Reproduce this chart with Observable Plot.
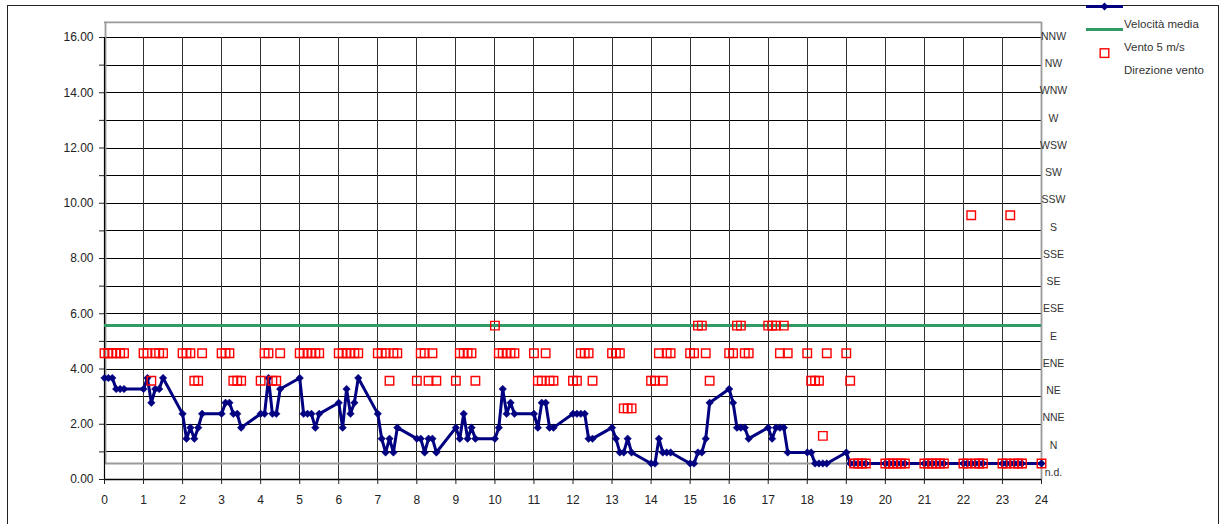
<!DOCTYPE html>
<html>
<head>
<meta charset="utf-8">
<script src="https://cdn.jsdelivr.net/npm/d3@7"></script>
<script src="https://cdn.jsdelivr.net/npm/@observablehq/plot@0.6"></script>
<style>
  html, body { margin: 0; padding: 0; background: #fff; }
  #wrap { position: relative; width: 1221px; height: 524px; overflow: hidden; font-family: "Liberation Sans", Arial, sans-serif; }
  #chart { position: absolute; left: 0; top: 0; }
  #border { position: absolute; left: 7px; top: 5px; width: 1212px; height: 560px; box-sizing: border-box; border: 1px solid #222; pointer-events: none; }
  #legend { position: absolute; left: 0; top: 0; }
</style>
</head>
<body>
<div id="wrap">
  <div id="chart"></div>
  <div id="border"></div>
  <svg id="legend" width="1221" height="90"></svg>
</div>
<script>
// ---- data (time as hour.minutes, speed in m/s on secondary axis, wind direction) ----
const times = [
  0.0,0.1,0.2,0.3,0.4,0.5, 1.0,1.1,1.2,1.3,1.4,1.5, 2.0,2.1,2.2,2.3,2.4,2.5,
  3.0,3.1,3.2,3.3,3.4,3.5, 4.0,4.1,4.2,4.3,4.4,4.5, 5.0,5.1,5.2,5.3,5.4,5.5,
  6.0,6.1,6.2,6.3,6.4,6.5, 7.0,7.1,7.2,7.3,7.4,7.5, 8.0,8.1,8.2,8.3,8.4,8.5,
  9.0,9.1,9.2,9.3,9.4,9.5, 10.0,10.1,10.2,10.3,10.4,10.5, 11.0,11.1,11.2,11.3,11.4,11.5,
  12.0,12.1,12.2,12.3,12.4,12.5, 13.0,13.1,13.2,13.3,13.4,13.5, 14.0,14.1,14.2,14.3,14.4,14.5,
  15.0,15.1,15.2,15.3,15.4,15.5, 16.0,16.1,16.2,16.3,16.4,16.5, 17.0,17.1,17.2,17.3,17.4,17.5,
  18.0,18.1,18.2,18.3,18.4,18.5, 19.0,19.1,19.2,19.3,19.4,19.5, 20.0,20.1,20.2,20.3,20.4,20.5,
  21.0,21.1,21.2,21.3,21.4,21.5, 22.0,22.1,22.2,22.3,22.4,22.5, 23.0,23.1,23.2,23.3,23.4,23.5,
  24.0
];
const speed = [
  3.1,3.1,3.1,2.7,2.7,2.7, 2.7,3.1,2.2,2.7,2.7,3.1, 1.8,0.9,1.3,0.9,1.3,1.8,
  1.8,2.2,2.2,1.8,1.8,1.3, 1.8,1.8,3.1,1.8,1.8,2.7, 3.1,1.8,1.8,1.8,1.3,1.8,
  2.2,1.3,2.7,1.8,2.2,3.1, 1.8,0.9,0.4,0.9,0.4,1.3, 0.9,0.9,0.4,0.9,0.9,0.4,
  1.3,0.9,1.8,0.9,1.3,0.9, 0.9,1.3,2.7,1.8,2.2,1.8, 1.8,1.3,2.2,2.2,1.3,1.3,
  1.8,1.8,1.8,1.8,0.9,0.9, 1.3,0.9,0.4,0.4,0.9,0.4, 0,0,0.9,0.4,0.4,0.4,
  0,0,0.4,0.4,0.9,2.2, 2.7,2.2,1.3,1.3,1.3,0.9, 1.3,0.9,1.3,1.3,1.3,0.4,
  0.4,0.4,0,0,0,0, 0.4,0,0,0,0,0, 0,0,0,0,0,0,
  0,0,0,0,0,0, 0,0,0,0,0,0, 0,0,0,0,0,0,
  0
];
const direction = [
  "ENE","ENE","ENE","ENE","ENE","ENE", "ENE","ENE","NE","ENE","ENE","ENE", "ENE","ENE","ENE","NE","NE","ENE",
  "ENE","ENE","ENE","NE","NE","NE", "NE","ENE","ENE","NE","NE","ENE", "ENE","ENE","ENE","ENE","ENE","ENE",
  "ENE","ENE","ENE","ENE","ENE","ENE", "ENE","ENE","ENE","NE","ENE","ENE", "NE","ENE","ENE","NE","ENE","NE",
  "NE","ENE","ENE","ENE","ENE","NE", "E","ENE","ENE","ENE","ENE","ENE", "ENE","NE","NE","ENE","NE","NE",
  "NE","NE","ENE","ENE","ENE","NE", "ENE","ENE","ENE","NNE","NNE","NNE", "NE","NE","ENE","NE","ENE","ENE",
  "ENE","ENE","E","E","ENE","NE", "ENE","ENE","E","E","ENE","ENE", "E","E","E","ENE","E","ENE",
  "ENE","NE","NE","NE","N","ENE", "ENE","NE","n.d.","n.d.","n.d.","n.d.", "n.d.","n.d.","n.d.","n.d.","n.d.","n.d.",
  "n.d.","n.d.","n.d.","n.d.","n.d.","n.d.", "n.d.","n.d.","S","n.d.","n.d.","n.d.", "n.d.","n.d.","S","n.d.","n.d.","n.d.",
  "n.d."
];
const dirLabels = ["n.d.","N","NNE","NE","ENE","E","ESE","SE","SSE","S","SSW","SW","WSW","W","WNW","NW","NNW"];
const threshold = [5];           // Vento 5 m/s
const xTicks = [0,1,2,3,4,5,6,7,8,9,10,11,12,13,14,15,16,17,18,19,20,21,22,23,24];
const yTicks = [0,1,2,3,4,5,6,7,8,9,10,11,12,13,14,15,16];
const legendItems = ["Velocità media", "Vento 5 m/s", "Direzione vento"];

// ---- secondary axis (0..16) expressed in primary units ----
const secMin = 0.58, secMax = 16.55;
const sec = v => secMin + v * (secMax - secMin) / 16;
const labelY = i => 0.25 + i * (16.04 - 0.25) / 16;

const rows = times.map((t, i) => ({t, s: speed[i], d: direction[i], di: dirLabels.indexOf(direction[i])}));

const navy = "#000080", green = "#339966", red = "#ff0000";

const chart = Plot.plot({
  width: 1221, height: 524,
  marginLeft: 104, marginRight: 180, marginTop: 37, marginBottom: 45,
  x: {domain: [0, 24]},
  y: {domain: [0, 16]},
  style: {fontFamily: "'Liberation Sans', Arial, sans-serif", fontSize: "12px", color: "#222", background: "transparent", overflow: "visible"},
  marks: [
    // grid
    Plot.ruleY(yTicks, {stroke: "#000", strokeWidth: 1, shapeRendering: "crispEdges"}),
    Plot.ruleX(xTicks.slice(1, -1), {y1: 0, y2: 16, stroke: "#333", strokeWidth: 1, shapeRendering: "crispEdges"}),
    // secondary plot-area frame
    Plot.ruleY([secMin, secMax], {x1: 0, x2: 24, stroke: "#9a9a9a", strokeWidth: 1.8}),
    Plot.ruleX([0], {y1: secMin, y2: secMax, dx: 1, stroke: "#9a9a9a", strokeWidth: 1.8}),
    Plot.ruleX([24], {y1: 0, y2: secMax, stroke: "#9a9a9a", strokeWidth: 1.8}),
    // axes lines
    Plot.ruleX([0], {y1: 0, y2: 16, stroke: "#000", strokeWidth: 1.2}),
    Plot.ruleY([0], {stroke: "#000", strokeWidth: 1.5}),
    Plot.axisY({ticks: yTicks, tickSize: 5, tickPadding: 6, fontSize: 12, label: null,
                tickFormat: d => d % 2 === 0 ? d.toFixed(2) : ""}),
    Plot.axisX({ticks: xTicks, tickSize: 5, tickPadding: 11, fontSize: 12, label: null, tickFormat: d => String(d)}),
    // threshold line
    Plot.ruleY(threshold, {y: d => sec(d), x1: 0, x2: 24, stroke: green, strokeWidth: 3}),
    // speed line
    Plot.line(rows, {x: "t", y: d => sec(d.s), stroke: navy, strokeWidth: 3}),
    Plot.dot(rows, {x: "t", y: d => sec(d.s), symbol: "diamond2", r: 3.4, fill: navy, stroke: navy, strokeWidth: 0.5}),
    // wind direction
    Plot.dot(rows, {x: "t", y: d => sec(d.di), symbol: "square", r: 4.8, fill: "none", stroke: red, strokeWidth: 1.4}),
    // right axis labels
    Plot.text(dirLabels, {x: () => 24, y: (d, i) => labelY(i), text: d => d, dx: 12, textAnchor: "middle", fontSize: 10.5, fill: "#333"})
  ]
});
document.getElementById("chart").appendChild(chart);

// ---- legend ----
const lg = d3.select("#legend");
const lx1 = 1086, lx2 = 1123, lcx = (lx1 + lx2) / 2;
lg.append("line").attr("x1", lx1).attr("x2", lx2).attr("y1", 6.5).attr("y2", 6.5).attr("stroke", navy).attr("stroke-width", 3);
lg.append("path").attr("d", d3.symbol(d3.symbolDiamond2, 40)()).attr("transform", `translate(${lcx},6.5)`).attr("fill", navy);
lg.append("line").attr("x1", lx1).attr("x2", lx2).attr("y1", 29.5).attr("y2", 29.5).attr("stroke", green).attr("stroke-width", 3);
lg.append("rect").attr("x", lcx - 4.3).attr("y", 48.8).attr("width", 8.6).attr("height", 8.6).attr("fill", "none").attr("stroke", red).attr("stroke-width", 1.4);
lg.selectAll("text.l").data(legendItems).join("text")
  .attr("x", 1124).attr("y", (d, i) => 28 + i * 23)
  .attr("font-family", "'Liberation Sans', Arial, sans-serif").attr("font-size", 11.5).attr("fill", "#333")
  .text(d => d);
</script>
</body>
</html>
